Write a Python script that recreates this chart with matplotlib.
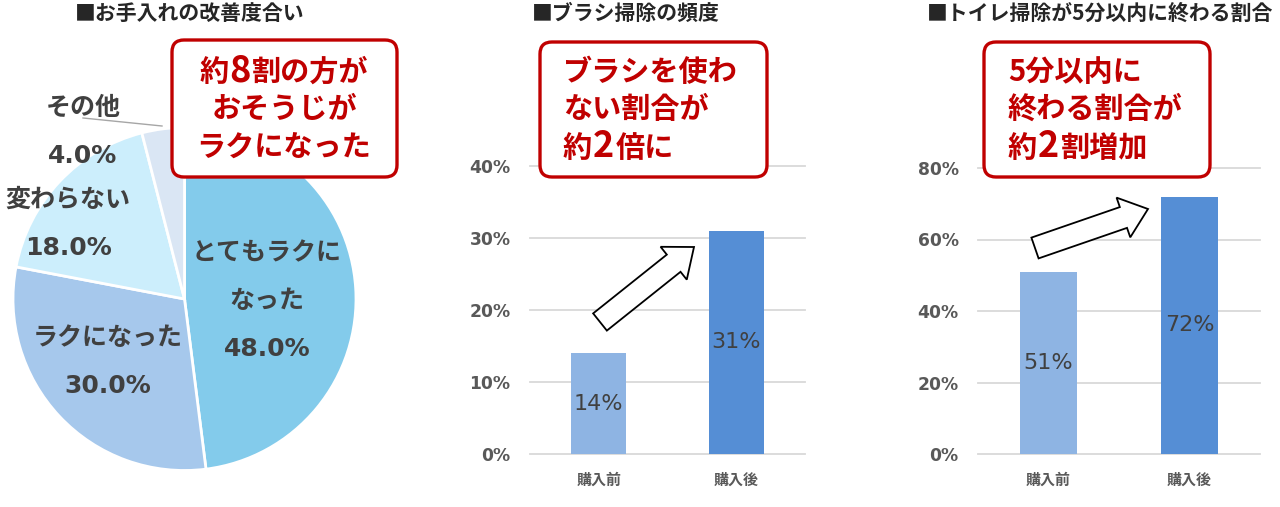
import matplotlib
matplotlib.use("Agg")
import matplotlib.pyplot as plt
import numpy as np
from matplotlib.patches import FancyBboxPatch, FancyArrow

W, H = 1280, 507

# --- data ---
PIE_LABELS = ["とてもラクに\nなった", "ラクになった", "変わらない", "その他"]
PIE_VALUES = [48.0, 30.0, 18.0, 4.0]
BAR_CATEGORIES = ["購入前", "購入後"]
BRUSH_VALUES = [14, 31]
TOILET_VALUES = [51, 72]

TITLES = ["■お手入れの改善度合い", "■ブラシ掃除の頻度", "■トイレ掃除が5分以内に終わる割合"]

# --- style ---
PIE_COLORS = ["#83CBEB", "#A6C8EC", "#CCEEFC", "#DAE6F4"]
BAR_COLORS = ["#8EB4E3", "#558ED5"]
RED = "#C00000"
DARK = "#404040"
GRAY = "#595959"
JP = ["Noto Sans CJK JP", "DejaVu Sans"]
LAT = ["DejaVu Sans", "Noto Sans CJK JP"]

plt.rcParams["font.family"] = LAT

fig = plt.figure(figsize=(W / 100, H / 100), dpi=100)
fig.patch.set_facecolor("white")


def px_axes(left, top, right, bottom, **kw):
    return fig.add_axes([left / W, 1 - bottom / H, (right - left) / W, (bottom - top) / H], **kw)


# --- pie ---
cx, cy, r = 184.5, 299, 171.5
ax_pie = px_axes(cx - r, cy - r, cx + r, cy + r)
ax_pie.pie(PIE_VALUES, colors=PIE_COLORS, startangle=90, counterclock=False,
           wedgeprops=dict(edgecolor="white", linewidth=2))
ax_pie.set_xlim(-1, 1)
ax_pie.set_ylim(-1, 1)
ax_pie.set_aspect("equal")


# --- bars ---
def draw_bars(rect, values, ymax, step):
    ax = px_axes(*rect)
    x = np.arange(len(BAR_CATEGORIES))
    ax.bar(x, values, width=0.4, color=BAR_COLORS, zorder=2)
    ax.set_xlim(-0.5, len(x) - 0.5)
    ax.set_ylim(0, ymax)
    ax.set_yticks(np.arange(0, ymax + 1, step))
    ax.yaxis.set_major_formatter(lambda v, p: f"{v:.0f}%")
    ax.set_xticks(x)
    ax.set_xticklabels(BAR_CATEGORIES, fontsize=10.8, fontweight="bold", color=GRAY, family=JP)
    for lab in ax.get_yticklabels():
        lab.set_fontsize(12.3)
        lab.set_fontweight("bold")
        lab.set_color(GRAY)
    ax.tick_params(axis="y", length=0, pad=14)
    ax.tick_params(axis="x", length=0, pad=13)
    ax.grid(axis="y", color="#D9D9D9", linewidth=1.3)
    ax.set_axisbelow(True)
    for line in ax.get_ygridlines():
        line.set_clip_on(False)
    for s in ax.spines.values():
        s.set_visible(False)
    for xi, v in zip(x, values):
        ax.text(xi, v / 2, f"{v}%", ha="center", va="center", fontsize=16, color=DARK, zorder=3)
    return ax


draw_bars((530, 166, 805, 454), BRUSH_VALUES, 40, 10)
draw_bars((978, 168, 1260, 454), TOILET_VALUES, 80, 20)

# --- overlay in pixel coordinates ---
ov = fig.add_axes([0, 0, 1, 1], zorder=10)
ov.set_xlim(0, W)
ov.set_ylim(H, 0)
ov.axis("off")
ov.patch.set_alpha(0)

# titles
for tx, t in zip([75, 532, 927], TITLES):
    ov.text(tx, 13, t, fontsize=15, fontweight="bold", color="#262626",
            family=JP, ha="left", va="center")

# pie labels
pie_pos = [(267, 301), (108, 362), (68, 224), (83, 132)]
for (px, py), lab, v in zip(pie_pos, PIE_LABELS, PIE_VALUES):
    ov.text(px, py, f"{lab}\n{v:.1f}%", ha="center", va="center", fontsize=18,
            fontweight="bold", color=DARK, linespacing=2.25)
ov.plot([83, 162], [118, 126], color="#A6A6A6", lw=1)

# callouts
renderer = fig.canvas.get_renderer()


def rich_line(x, y, parts, align):
    texts, widths = [], []
    for s, size in parts:
        t = ov.text(0, y, s, fontsize=size, fontweight="bold", color=RED, family=JP,
                    ha="left", va="baseline")
        texts.append(t)
        widths.append(t.get_window_extent(renderer).width + 1)
    start = x - sum(widths) / 2 if align == "center" else x
    for t, w in zip(texts, widths):
        t.set_x(start)
        start += w


callouts = [
    ((172, 40, 397, 177), 284.5, "center",
     [[("約", 21), ("8", 26), ("割の方が", 21)], [("おそうじが", 21)], [("ラクになった", 21)]]),
    ((540, 42, 767, 177), 563, "left",
     [[("ブラシを使わ", 21)], [("ない割合が", 21)], [("約", 21), ("2", 26), ("倍に", 21)]]),
    ((984, 42, 1210, 177), 1008, "left",
     [[("5分以内に", 21)], [("終わる割合が", 21)], [("約", 21), ("2", 26), ("割増加", 21)]]),
]
for (x0, y0, x1, y1), tx, align, lines in callouts:
    ov.add_patch(FancyBboxPatch((x0, y0), x1 - x0, y1 - y0,
                                boxstyle="round,pad=0,rounding_size=12",
                                fc="white", ec=RED, lw=2.4))
    for base, parts in zip([81, 118, 157], lines):
        rich_line(tx, base, parts, align)

# block arrows
for (x0, y0), (x1, y1) in [((600, 322), (694, 247)), ((1035, 248), (1148, 209))]:
    ov.add_patch(FancyArrow(x0, y0, x1 - x0, y1 - y0, width=22, head_width=42,
                            head_length=26, length_includes_head=True,
                            fc="white", ec="black", lw=1.3))

fig.savefig("out.png", dpi=100, facecolor="white")
